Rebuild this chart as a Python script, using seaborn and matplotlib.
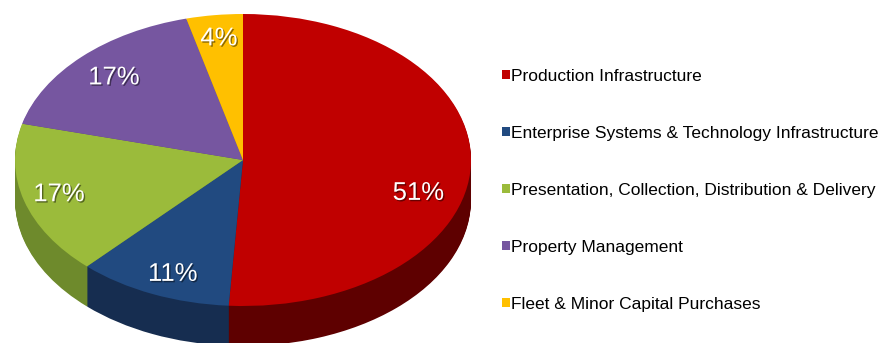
import matplotlib
matplotlib.use("Agg")
import matplotlib.pyplot as plt
import matplotlib.patheffects as pe
import seaborn as sns
import numpy as np

categories = [
    "Production Infrastructure",
    "Enterprise Systems & Technology Infrastructure",
    "Presentation, Collection, Distribution & Delivery",
    "Property Management",
    "Fleet & Minor Capital Purchases",
]
values = [51, 11, 17, 17, 4]
top_colors = ["#C00000", "#214A80", "#9BBB3B", "#7656A0", "#FFC000"]
side_colors = ["#5E0000", "#162D50", "#6E8A2C", "#553D78", "#B88A00"]
label_radius = [0.8, 0.85, 0.84, 0.80, 0.84]

sns.set_theme(style="white")
plt.rcParams["font.family"] = ["Liberation Sans", "DejaVu Sans"]

W, H = 879, 343
fig = plt.figure(figsize=(W / 100, H / 100), dpi=100)
ax = fig.add_axes([0, 0, 1, 1])

# pixel geometry of the ellipse
cx, cy, rx, ry = 243, 160, 228, 146
depth = 40 / ry

# side wall: stacked layers
n_layers = 40
for off in np.linspace(-depth, 0, n_layers, endpoint=False):
    ax.pie(values, colors=side_colors, startangle=90, counterclock=False,
           center=(0, off), radius=1, wedgeprops=dict(linewidth=0),
           frame=True)

wedges, texts, autotexts = ax.pie(
    values, colors=top_colors, startangle=90, counterclock=False,
    center=(0, 0), radius=1, autopct="%1.0f%%", pctdistance=1.0,
    wedgeprops=dict(linewidth=0), frame=True,
    textprops=dict(color="white", fontsize=18.5))

for w, t, r in zip(wedges, autotexts, label_radius):
    mid = np.deg2rad((w.theta1 + w.theta2) / 2)
    t.set_position((r * np.cos(mid), r * np.sin(mid)))
    t.set_path_effects([pe.withSimplePatchShadow(offset=(1, -1), shadow_rgbFace="black", alpha=0.45)])

# labels shifted to sit where the 3D view puts them
x0, y0 = autotexts[0].get_position()
autotexts[0].set_position((x0 - 0.03, y0 - 0.2))
x1, y1 = autotexts[1].get_position()
autotexts[1].set_position((x1 + 0.03, y1))

ax.set_aspect("auto")
ax.set_xlim(-cx / rx, (W - cx) / rx)
ax.set_ylim((cy - H) / ry, cy / ry)
ax.axis("off")

leg = ax.legend(wedges, categories, loc="center left",
                bbox_to_anchor=(502 / W, 0.445), bbox_transform=fig.transFigure,
                frameon=False, fontsize=12.5, handlelength=0.45, handleheight=0.45,
                handletextpad=0.05, labelspacing=2.42, borderpad=0, borderaxespad=0)
for t in leg.get_texts():
    t.set_color("black")

fig.savefig("out.png", dpi=100, facecolor="white")
